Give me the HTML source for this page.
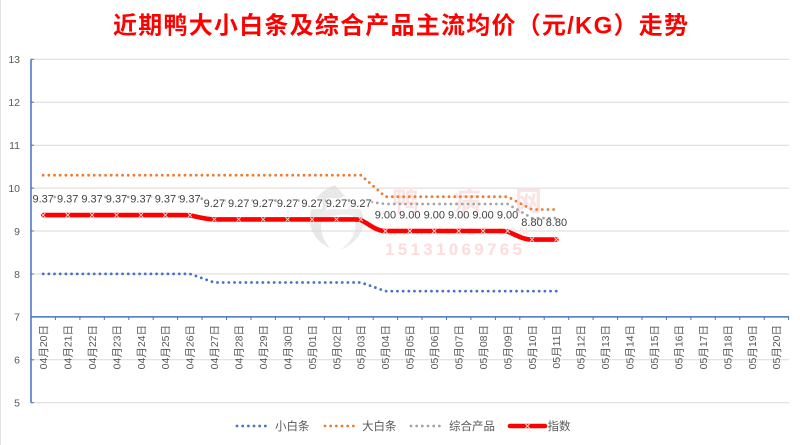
<!DOCTYPE html>
<html>
<head>
<meta charset="utf-8">
<style>
  html, body { margin:0; padding:0; background:#ffffff; }
  body { width:800px; height:445px; overflow:hidden; }
  svg { display:block; }
  .yl { font-family:"Liberation Sans","Noto Sans CJK SC",sans-serif; font-size:10.5px; fill:#595959; }
  .xl { font-family:"Liberation Sans","Noto Sans CJK SC",sans-serif; font-size:10.5px; fill:#595959; }
  .dl { font-family:"Liberation Sans",sans-serif; font-size:11px; fill:#404040; }
  .lg { font-family:"Liberation Sans","Noto Sans CJK SC",sans-serif; font-size:11.5px; fill:#595959; }
</style>
</head>
<body>
<svg width="800" height="445" viewBox="0 0 800 445" xmlns="http://www.w3.org/2000/svg">
  <rect x="0" y="0" width="800" height="445" fill="#ffffff"/>
  <line x1="0.5" y1="0" x2="0.5" y2="445" stroke="#e3e3e3" stroke-width="1"/>

  <!-- Title -->
  <text x="113" y="33.5" font-family="'Liberation Sans','Noto Sans CJK SC',sans-serif" font-size="24" font-weight="bold" fill="#ff0000" textLength="575" lengthAdjust="spacing">近期鸭大小白条及综合产品主流均价（元/KG）走势</text>

  <!-- Gridlines -->
  <g stroke="#d9d9d9" stroke-width="1">
    <line x1="31" y1="59.3" x2="789" y2="59.3"/>
    <line x1="31" y1="102.2" x2="789" y2="102.2"/>
    <line x1="31" y1="145.2" x2="789" y2="145.2"/>
    <line x1="31" y1="188.1" x2="789" y2="188.1"/>
    <line x1="31" y1="231.0" x2="789" y2="231.0"/>
    <line x1="31" y1="274.0" x2="789" y2="274.0"/>
    <line x1="31" y1="359.8" x2="789" y2="359.8"/>
    <line x1="31" y1="402.7" x2="789" y2="402.7"/>
  </g>

  <!-- Watermark -->
  <g opacity="0.55">
    <path d="M335,185 C305,195 300,235 330,248 C315,232 318,205 345,196 Z" fill="#d6d6d6"/>
    <path d="M352,200 C372,215 365,240 340,250 C360,236 358,220 348,210 Z" fill="#dcdcdc"/>
    <path d="M318,215 C330,205 350,205 360,218 C345,212 330,214 318,225 Z" fill="#e0e0e0"/>
  </g>
  <text x="392" y="211" font-family="'Noto Sans CJK SC',sans-serif" font-size="27" font-weight="bold" fill="#fbe3e3" textLength="150" lengthAdjust="spacing">鸭病网</text>
  <text x="388" y="235" font-family="'Liberation Sans',sans-serif" font-size="10" font-weight="bold" fill="#fbe6e6" textLength="140" lengthAdjust="spacing">WWW.YMEBC.COM</text>
  <text x="385" y="255" font-family="'Liberation Sans',sans-serif" font-size="17" font-weight="bold" fill="#fcdcdc" textLength="137" lengthAdjust="spacing">15131069765</text>

  <!-- Y axis -->
  <line x1="31" y1="59.3" x2="31" y2="402.7" stroke="#4472c4" stroke-width="1.5"/>
  <g stroke="#4472c4" stroke-width="1">
    <line x1="31" y1="59.3" x2="34" y2="59.3"/>
    <line x1="31" y1="102.2" x2="34" y2="102.2"/>
    <line x1="31" y1="145.2" x2="34" y2="145.2"/>
    <line x1="31" y1="188.1" x2="34" y2="188.1"/>
    <line x1="31" y1="231.0" x2="34" y2="231.0"/>
    <line x1="31" y1="274.0" x2="34" y2="274.0"/>
    <line x1="31" y1="359.8" x2="34" y2="359.8"/>
    <line x1="31" y1="402.7" x2="34" y2="402.7"/>
  </g>
  <g class="yl" text-anchor="end">
    <text x="20" y="63">13</text>
    <text x="20" y="106">12</text>
    <text x="20" y="149">11</text>
    <text x="20" y="192">10</text>
    <text x="20" y="235">9</text>
    <text x="20" y="278">8</text>
    <text x="20" y="320.5">7</text>
    <text x="20" y="363.5">6</text>
    <text x="20" y="406.5">5</text>
  </g>

  <!-- X axis -->
  <line x1="31" y1="316.9" x2="789" y2="316.9" stroke="#4472c4" stroke-width="1.5"/>
  <g stroke="#4472c4" stroke-width="1">
    <line x1="31.0" y1="316.9" x2="31.0" y2="320"/>
    <line x1="55.4" y1="316.9" x2="55.4" y2="320"/>
    <line x1="79.9" y1="316.9" x2="79.9" y2="320"/>
    <line x1="104.3" y1="316.9" x2="104.3" y2="320"/>
    <line x1="128.8" y1="316.9" x2="128.8" y2="320"/>
    <line x1="153.2" y1="316.9" x2="153.2" y2="320"/>
    <line x1="177.6" y1="316.9" x2="177.6" y2="320"/>
    <line x1="202.1" y1="316.9" x2="202.1" y2="320"/>
    <line x1="226.5" y1="316.9" x2="226.5" y2="320"/>
    <line x1="251.0" y1="316.9" x2="251.0" y2="320"/>
    <line x1="275.4" y1="316.9" x2="275.4" y2="320"/>
    <line x1="299.8" y1="316.9" x2="299.8" y2="320"/>
    <line x1="324.3" y1="316.9" x2="324.3" y2="320"/>
    <line x1="348.7" y1="316.9" x2="348.7" y2="320"/>
    <line x1="373.2" y1="316.9" x2="373.2" y2="320"/>
    <line x1="397.6" y1="316.9" x2="397.6" y2="320"/>
    <line x1="422.0" y1="316.9" x2="422.0" y2="320"/>
    <line x1="446.5" y1="316.9" x2="446.5" y2="320"/>
    <line x1="470.9" y1="316.9" x2="470.9" y2="320"/>
    <line x1="495.4" y1="316.9" x2="495.4" y2="320"/>
    <line x1="519.8" y1="316.9" x2="519.8" y2="320"/>
    <line x1="544.2" y1="316.9" x2="544.2" y2="320"/>
    <line x1="568.7" y1="316.9" x2="568.7" y2="320"/>
    <line x1="593.1" y1="316.9" x2="593.1" y2="320"/>
    <line x1="617.6" y1="316.9" x2="617.6" y2="320"/>
    <line x1="642.0" y1="316.9" x2="642.0" y2="320"/>
    <line x1="666.4" y1="316.9" x2="666.4" y2="320"/>
    <line x1="690.9" y1="316.9" x2="690.9" y2="320"/>
    <line x1="715.3" y1="316.9" x2="715.3" y2="320"/>
    <line x1="739.8" y1="316.9" x2="739.8" y2="320"/>
    <line x1="764.2" y1="316.9" x2="764.2" y2="320"/>
    <line x1="788.6" y1="316.9" x2="788.6" y2="320"/>
  </g>
  <g class="xl" text-anchor="end">
    <text transform="translate(43.2,325) rotate(-90)" dy="0.36em">04月20日</text>
    <text transform="translate(67.7,325) rotate(-90)" dy="0.36em">04月21日</text>
    <text transform="translate(92.1,325) rotate(-90)" dy="0.36em">04月22日</text>
    <text transform="translate(116.5,325) rotate(-90)" dy="0.36em">04月23日</text>
    <text transform="translate(141.0,325) rotate(-90)" dy="0.36em">04月24日</text>
    <text transform="translate(165.4,325) rotate(-90)" dy="0.36em">04月25日</text>
    <text transform="translate(189.9,325) rotate(-90)" dy="0.36em">04月26日</text>
    <text transform="translate(214.3,325) rotate(-90)" dy="0.36em">04月27日</text>
    <text transform="translate(238.7,325) rotate(-90)" dy="0.36em">04月28日</text>
    <text transform="translate(263.2,325) rotate(-90)" dy="0.36em">04月29日</text>
    <text transform="translate(287.6,325) rotate(-90)" dy="0.36em">04月30日</text>
    <text transform="translate(312.1,325) rotate(-90)" dy="0.36em">05月01日</text>
    <text transform="translate(336.5,325) rotate(-90)" dy="0.36em">05月02日</text>
    <text transform="translate(360.9,325) rotate(-90)" dy="0.36em">05月03日</text>
    <text transform="translate(385.4,325) rotate(-90)" dy="0.36em">05月04日</text>
    <text transform="translate(409.8,325) rotate(-90)" dy="0.36em">05月05日</text>
    <text transform="translate(434.3,325) rotate(-90)" dy="0.36em">05月06日</text>
    <text transform="translate(458.7,325) rotate(-90)" dy="0.36em">05月07日</text>
    <text transform="translate(483.1,325) rotate(-90)" dy="0.36em">05月08日</text>
    <text transform="translate(507.6,325) rotate(-90)" dy="0.36em">05月09日</text>
    <text transform="translate(532.0,325) rotate(-90)" dy="0.36em">05月10日</text>
    <text transform="translate(556.4,325) rotate(-90)" dy="0.36em">05月11日</text>
    <text transform="translate(580.9,325) rotate(-90)" dy="0.36em">05月12日</text>
    <text transform="translate(605.3,325) rotate(-90)" dy="0.36em">05月13日</text>
    <text transform="translate(629.8,325) rotate(-90)" dy="0.36em">05月14日</text>
    <text transform="translate(654.2,325) rotate(-90)" dy="0.36em">05月15日</text>
    <text transform="translate(678.6,325) rotate(-90)" dy="0.36em">05月16日</text>
    <text transform="translate(703.1,325) rotate(-90)" dy="0.36em">05月17日</text>
    <text transform="translate(727.5,325) rotate(-90)" dy="0.36em">05月18日</text>
    <text transform="translate(752.0,325) rotate(-90)" dy="0.36em">05月19日</text>
    <text transform="translate(776.4,325) rotate(-90)" dy="0.36em">05月20日</text>
  </g>

  <!-- Series -->
  <g fill="none" stroke-linecap="round" stroke-linejoin="round">
    <!-- 小白条 -->
    <path d="M43.2,273.9 H189.9 L214.3,282.5 H360.9 L385.4,291.1 H556.4" stroke="#4472c4" stroke-width="2.8" stroke-dasharray="0 5.67"/>
    <!-- 大白条 -->
    <path d="M43.2,175.2 H360.9 L385.4,196.7 H507.6 L532.0,209.5 H556.4" stroke="#ed7d31" stroke-width="2.8" stroke-dasharray="0 5.67"/>
    <!-- 综合产品 -->
    <path d="M43.2,197 H189.9 L214.3,200.5 H360.9 L385.4,204 H507.6 L532.0,218.1 H556.4" stroke="#a5a5a5" stroke-width="2.8" stroke-dasharray="0 5.67"/>
    <!-- 指数 -->
    <path d="M43.2,215.1 H183 C186,215.1 188,215.1 189.9,215.3 C198,217 206,219.4 214.3,219.4 H354 C357,219.4 359,219.4 360.9,220 C369,224 376,231 385.4,231 H501 C504,231 506,231 507.6,231.5 C516,235 523,239.6 532,239.6 H556.4" stroke="#ff0000" stroke-width="4.6"/>
  </g>

  <!-- Markers on 指数 -->
  <g stroke="#ffd9d9" stroke-width="0.9">
    <path d="M41.2,213.1 l4,4 m0,-4 l-4,4"/>
    <path d="M65.7,213.1 l4,4 m0,-4 l-4,4"/>
    <path d="M90.1,213.1 l4,4 m0,-4 l-4,4"/>
    <path d="M114.5,213.1 l4,4 m0,-4 l-4,4"/>
    <path d="M139.0,213.1 l4,4 m0,-4 l-4,4"/>
    <path d="M163.4,213.1 l4,4 m0,-4 l-4,4"/>
    <path d="M187.9,213.1 l4,4 m0,-4 l-4,4"/>
    <path d="M212.3,217.4 l4,4 m0,-4 l-4,4"/>
    <path d="M236.7,217.4 l4,4 m0,-4 l-4,4"/>
    <path d="M261.2,217.4 l4,4 m0,-4 l-4,4"/>
    <path d="M285.6,217.4 l4,4 m0,-4 l-4,4"/>
    <path d="M310.1,217.4 l4,4 m0,-4 l-4,4"/>
    <path d="M334.5,217.4 l4,4 m0,-4 l-4,4"/>
    <path d="M358.9,217.4 l4,4 m0,-4 l-4,4"/>
    <path d="M383.4,229.0 l4,4 m0,-4 l-4,4"/>
    <path d="M407.8,229.0 l4,4 m0,-4 l-4,4"/>
    <path d="M432.3,229.0 l4,4 m0,-4 l-4,4"/>
    <path d="M456.7,229.0 l4,4 m0,-4 l-4,4"/>
    <path d="M481.1,229.0 l4,4 m0,-4 l-4,4"/>
    <path d="M505.6,229.0 l4,4 m0,-4 l-4,4"/>
    <path d="M530.0,237.6 l4,4 m0,-4 l-4,4"/>
    <path d="M554.4,237.6 l4,4 m0,-4 l-4,4"/>
  </g>

  <!-- Data labels (white boxes) -->
  <g fill="#ffffff">
    <rect x="32.7" y="194" width="21" height="11"/>
    <rect x="57.2" y="194" width="21" height="11"/>
    <rect x="81.6" y="194" width="21" height="11"/>
    <rect x="106.0" y="194" width="21" height="11"/>
    <rect x="130.5" y="194" width="21" height="11"/>
    <rect x="154.9" y="194" width="21" height="11"/>
    <rect x="179.4" y="194" width="21" height="11"/>
    <rect x="203.8" y="198.3" width="21" height="11"/>
    <rect x="228.2" y="198.3" width="21" height="11"/>
    <rect x="252.7" y="198.3" width="21" height="11"/>
    <rect x="277.1" y="198.3" width="21" height="11"/>
    <rect x="301.6" y="198.3" width="21" height="11"/>
    <rect x="326.0" y="198.3" width="21" height="11"/>
    <rect x="350.4" y="198.3" width="21" height="11"/>
  </g>
  <g class="dl" text-anchor="middle">
    <text x="43.2" y="202.6">9.37</text>
    <text x="67.7" y="202.6">9.37</text>
    <text x="92.1" y="202.6">9.37</text>
    <text x="116.5" y="202.6">9.37</text>
    <text x="141.0" y="202.6">9.37</text>
    <text x="165.4" y="202.6">9.37</text>
    <text x="189.9" y="202.6">9.37</text>
    <text x="214.3" y="206.9">9.27</text>
    <text x="238.7" y="206.9">9.27</text>
    <text x="263.2" y="206.9">9.27</text>
    <text x="287.6" y="206.9">9.27</text>
    <text x="312.1" y="206.9">9.27</text>
    <text x="336.5" y="206.9">9.27</text>
    <text x="360.9" y="206.9">9.27</text>
    <text x="385.4" y="218.7">9.00</text>
    <text x="409.8" y="218.7">9.00</text>
    <text x="434.3" y="218.7">9.00</text>
    <text x="458.7" y="218.7">9.00</text>
    <text x="483.1" y="218.7">9.00</text>
    <text x="507.6" y="218.7">9.00</text>
    <text x="532.0" y="226">8.80</text>
    <text x="556.4" y="226">8.80</text>
  </g>

  <!-- Legend -->
  <g fill="none" stroke-linecap="round">
    <line x1="237" y1="426" x2="267" y2="426" stroke="#4472c4" stroke-width="2.8" stroke-dasharray="0 5.67"/>
    <line x1="325" y1="426" x2="355" y2="426" stroke="#ed7d31" stroke-width="2.8" stroke-dasharray="0 5.67"/>
    <line x1="411" y1="426" x2="441" y2="426" stroke="#a5a5a5" stroke-width="2.8" stroke-dasharray="0 5.67"/>
    <line x1="510" y1="426" x2="545" y2="426" stroke="#ff0000" stroke-width="4.6"/>
  </g>
  <path d="M525.5,424 l4,4 m0,-4 l-4,4" stroke="#ffd9d9" stroke-width="0.9"/>
  <g class="lg">
    <text x="275" y="430">小白条</text>
    <text x="362" y="430">大白条</text>
    <text x="449" y="430">综合产品</text>
    <text x="547.5" y="430">指数</text>
  </g>
</svg>
</body>
</html>
